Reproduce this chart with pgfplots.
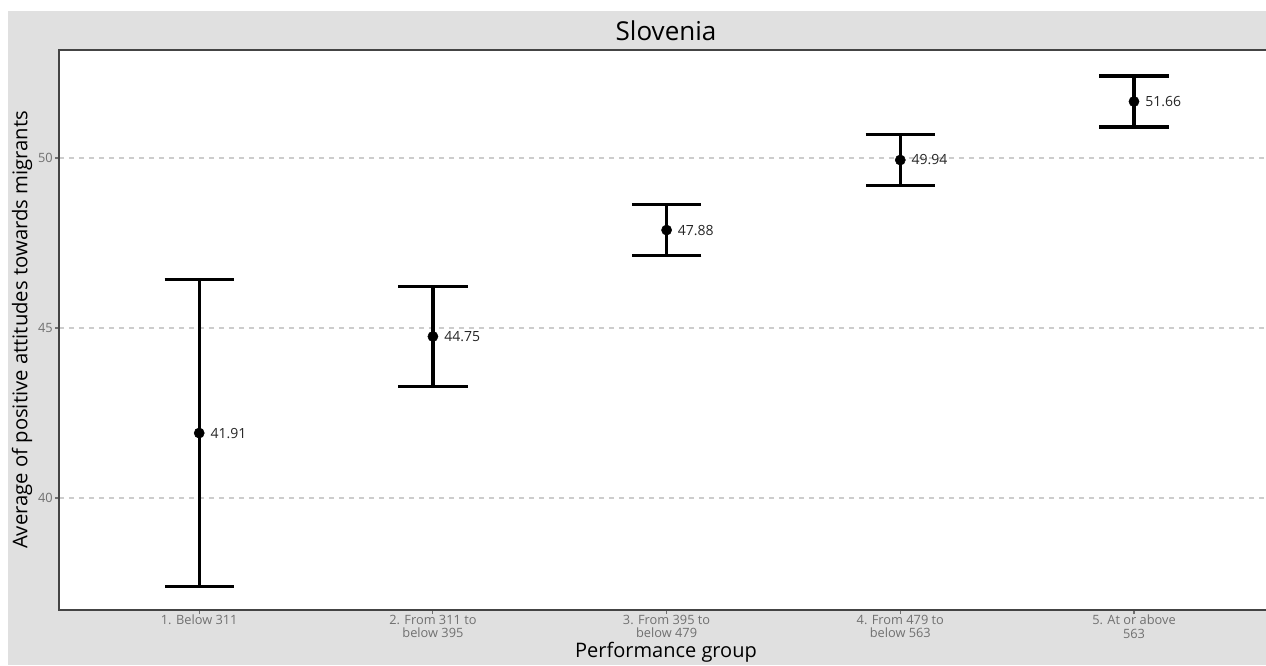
\documentclass[border=0pt]{standalone}
\usepackage{pgfplots}
\pgfplotsset{compat=1.18}
\usepackage{pgfplotstable}
\usepackage{fontspec}
\setmainfont{Open Sans}
\definecolor{bg}{HTML}{E0E0E0}
\definecolor{tickc}{HTML}{707070}
\definecolor{gridc}{HTML}{CCCCCC}
\definecolor{framec}{HTML}{444444}
\pgfplotstableread{
x y err
1 41.91 4.51
2 44.75 1.48
3 47.88 0.75
4 49.94 0.75
5 51.66 0.75
}\datatable
\begin{document}
\begin{tikzpicture}[x=0.75pt,y=0.75pt]
\useasboundingbox (0,0) rectangle (1266,666);
\fill[bg] (8,1) rectangle (1266,655);
\fill[white] (59,56) rectangle (1266,616);
\begin{axis}[
  at={(44.25pt,42pt)}, anchor=south west,
  width=905.25pt, height=420pt, scale only axis,
  xmin=0.4, xmax=5.565, ymin=36.706, ymax=53.176,
  clip=false,
  axis line style={draw=none},
  xtick={1,2,3,4,5},
  xtick pos=bottom, ytick pos=left,
  xticklabels={{1. Below 311},{2. From 311 to\\below 395},{3. From 395 to\\below 479},{4. From 479 to\\below 563},{5. At or above\\563}},
  ytick={40,45,50},
  /pgf/number format/assume math mode=true,
  tick align=outside,
  major tick length=3pt,
  tick style={tickc, line width=0.8pt},
  x tick label style={font=\fontsize{9.6}{10.2}\selectfont, text=tickc, align=center, inner sep=1.5pt, yshift=1pt},
  y tick label style={font=\fontsize{9.6}{10.2}\selectfont, text=tickc, inner sep=1.5pt},
  ymajorgrids,
  grid style={gridc, line width=1pt, dash pattern=on 4pt off 3.5pt},
  nodes near coords={\pgfmathprintnumber[fixed, precision=2, fixed zerofill, assume math mode=true]{\pgfplotspointmeta}},
  point meta=y,
  nodes near coords style={anchor=west, xshift=5pt, font=\fontsize{10.5}{12}\selectfont, text=black!85},
]
\addplot[black, only marks, mark=*, mark size=3.8pt,
  error bars/.cd, y dir=both, y explicit,
  error bar style={black, line width=2.4pt},
  error mark options={black, line width=2.4pt, mark size=26pt, rotate=90}]
  table[x=x, y=y, y error=err] {\datatable};
\draw[framec, line width=1pt] (rel axis cs:1.02,1) -- (rel axis cs:0,1) -- (rel axis cs:0,0) -- (rel axis cs:1.02,0);
\end{axis}
\node[font=\fontsize{19.5}{23}\selectfont] at (666,635) {Slovenia};
\node[font=\fontsize{15}{18}\selectfont] at (666,14) {Performance group};
\node[font=\fontsize{15.2}{18}\selectfont, rotate=90] at (22,336) {Average of positive attitudes towards migrants};
\end{tikzpicture}
\end{document}
